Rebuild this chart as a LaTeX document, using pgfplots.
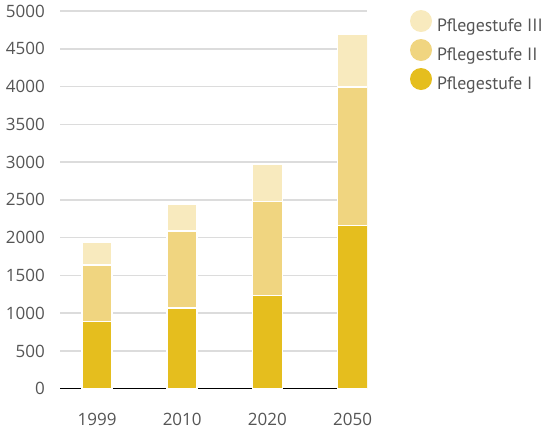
\documentclass[border=0pt]{standalone}
\usepackage{fontspec}
\setmainfont{Open Sans}
\newfontfamily\legfont{PT Sans}
\usepackage{pgfplots}
\pgfplotsset{compat=1.18}
\definecolor{cI}{RGB}{229,190,30}
\definecolor{cII}{RGB}{240,213,128}
\definecolor{cIII}{RGB}{248,234,190}
\definecolor{txt}{RGB}{85,85,85}
\definecolor{gridc}{RGB}{220,220,220}
\begin{document}
\begin{tikzpicture}
\useasboundingbox (0,0) rectangle (547bp,433bp);
\begin{axis}[
  at={(60bp,44.3bp)}, anchor=south west,
  scale only axis, width=307bp, height=377.7bp,
  ymin=0, ymax=5000, xmin=-0.435, xmax=3.17,
  ybar stacked, bar width=30bp,
  xtick={0,1,2,3}, xticklabels={1999,2010,2020,2050},
  ytick={0,500,...,5000},
  axis line style={draw=none},
  major tick length=0pt,
  ymajorgrids, grid style={gridc, line width=1.5bp},
  /pgf/number format/assume math mode=true,
  /pgf/number format/set thousands separator={},
  tick label style={font=\fontsize{17bp}{20bp}\selectfont, text=txt},
  yticklabel style={anchor=east, inner sep=0pt, xshift=-15bp},
  xticklabel style={anchor=north, inner sep=0pt, yshift=-24bp},
  legend style={at={(rel axis cs:1.1401,0.9796)}, anchor=north west, draw=none, fill=none,
    font=\legfont\fontsize{17.8bp}{21bp}\selectfont, text=txt, row sep=11.5bp, column sep=5bp,
    inner sep=0pt, outer sep=0pt,
    nodes={anchor=base west, inner sep=0pt, outer sep=0pt, text height=13bp, text depth=4.5bp}},
  legend image code/.code={\path[draw=none, fill=none] (0bp,-4.5bp) rectangle (22bp,13bp);
    \fill[#1, draw=none, overlay] (11bp,10.7bp) circle (11bp);},
  reverse legend,
]
\addplot[fill=cI, draw=white, line width=1.5bp] coordinates {(0,890) (1,1070) (2,1235) (3,2160)};
\addlegendentry{Pflegestufe I}
\addplot[fill=cII, draw=white, line width=1.5bp] coordinates {(0,745) (1,1020) (2,1245) (3,1835)};
\addlegendentry{Pflegestufe II}
\addplot[fill=cIII, draw=white, line width=1.5bp] coordinates {(0,310) (1,355) (2,495) (3,700)};
\addlegendentry{Pflegestufe III}
\draw[black, line width=1.5bp] (rel axis cs:0,0) -- (rel axis cs:1,0);
\end{axis}
\end{tikzpicture}
\end{document}
